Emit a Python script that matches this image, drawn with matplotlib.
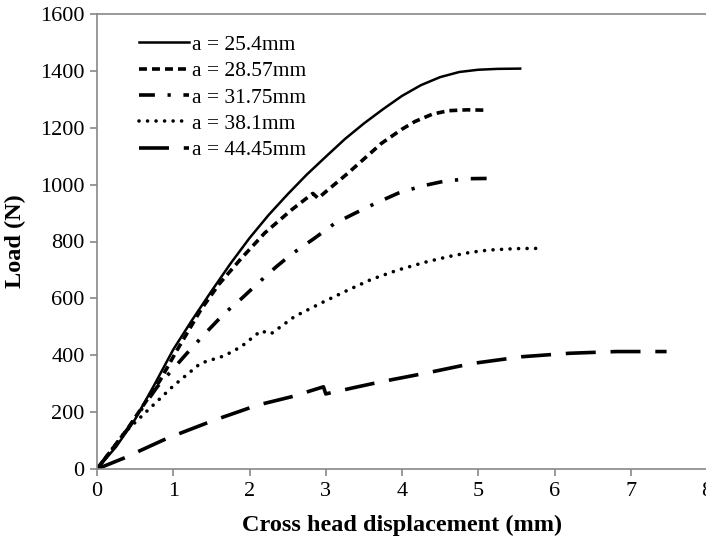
import matplotlib
matplotlib.use('Agg')
import matplotlib.pyplot as plt

plt.rcParams['font.family'] = ['Liberation Serif', 'DejaVu Serif']

# a = 25.4mm
x_254 = [0, 0.25, 0.5, 0.75, 1.0, 1.25, 1.5, 1.75, 2.0, 2.25, 2.5, 2.75, 3.0, 3.25,
         3.5, 3.75, 4.0, 4.25, 4.5, 4.75, 5.0, 5.25, 5.55]
y_254 = [0, 78, 175, 295, 420, 525, 625, 722, 812, 893, 966, 1035, 1098, 1160,
         1215, 1265, 1312, 1350, 1378, 1396, 1404, 1407, 1408]
# a = 28.57mm
x_2857 = [0, 0.39, 0.83, 1.05, 1.36, 1.6, 1.89, 2.2, 2.55, 2.83, 2.9, 3.0, 3.29, 3.5,
          3.73, 4.0, 4.17, 4.4, 4.61, 4.85, 5.07]
y_2857 = [0, 137, 313, 418, 559, 650, 740, 830, 911, 969, 952, 975, 1040, 1090,
          1145, 1195, 1222, 1248, 1260, 1263, 1262]
# a = 31.75mm
x_3175 = [0, 0.4, 0.79, 1.18, 1.42, 1.67, 1.89, 2.11, 2.35, 2.55, 2.85, 3.12, 3.38,
          3.65, 3.95, 4.26, 4.57, 4.9, 5.21]
y_3175 = [0, 140, 289, 407, 477, 547, 598, 653, 711, 755, 811, 864, 899,
          934, 970, 995, 1013, 1021, 1022]
# a = 38.1mm
x_381 = [0, 0.35, 0.66, 1.0, 1.36, 1.67, 1.89, 2.15, 2.28, 2.59, 2.95, 3.29, 3.6,
         3.95, 4.3, 4.61, 4.9, 5.14, 5.5, 5.84]
y_381 = [0, 125, 205, 292, 372, 398, 430, 486, 475, 536, 585, 629, 667,
         700, 727, 747, 762, 770, 775, 776]
# a = 44.45mm
x_4445 = [0, 0.35, 0.92, 1.54, 2.11, 2.55, 2.97, 3.0, 3.35, 3.73, 4.31, 4.92, 5.58,
          6.2, 6.81, 7.47]
y_4445 = [0, 38, 108, 172, 225, 254, 289, 264, 285, 307, 337, 371, 395,
          407, 413, 413]

labels = ['a = 25.4mm', 'a = 28.57mm', 'a = 31.75mm', 'a = 38.1mm', 'a = 44.45mm']

fig = plt.figure(figsize=(7.06, 5.43), dpi=100)
W, H = 706, 543
ax = fig.add_axes([97 / W, (H - 469) / H, 610 / W, 455 / H])

lw = 2.6
ax.plot(x_254, y_254, color='black', lw=1.8, label=labels[0])
ax.plot(x_2857, y_2857, color='black', lw=lw, dashes=(2.2, 1.4), dash_capstyle='butt', label=labels[1])
ax.plot(x_3175, y_3175, color='black', lw=lw, dashes=(4.4, 3.5, 0.9, 3.5), dash_capstyle='butt', label=labels[2])
ax.plot(x_381, y_381, color='black', lw=lw, dashes=(0.01, 2.35), dash_capstyle='round', label=labels[3])
ax.plot(x_4445, y_4445, color='black', lw=lw, dashes=(8.3, 4.1), dash_capstyle='butt', label=labels[4])

ax.set_xlim(0, 8)
ax.set_ylim(0, 1600)
ax.set_xticks(range(0, 9))
ax.set_yticks(range(0, 1601, 200))

for s in ['left', 'bottom', 'top']:
    ax.spines[s].set_color('#888888')
    ax.spines[s].set_linewidth(1.2)
ax.spines['right'].set_visible(False)
ax.tick_params(direction='out', length=5, width=1.2, color='#888888', labelsize=16, pad=4)

ax.set_xlabel('Cross head displacement (mm)', fontsize=17.5, fontweight='bold', labelpad=10)
ax.set_ylabel('Load (N)', fontsize=17.5, fontweight='bold', labelpad=10)

leg = ax.legend(loc='upper left', bbox_to_anchor=(0.069, 0.954), frameon=False, fontsize=15.5,
                handlelength=2.33, handletextpad=0.14, labelspacing=0.29,
                borderpad=0, borderaxespad=0)

fig.savefig('out.png', dpi=100)
